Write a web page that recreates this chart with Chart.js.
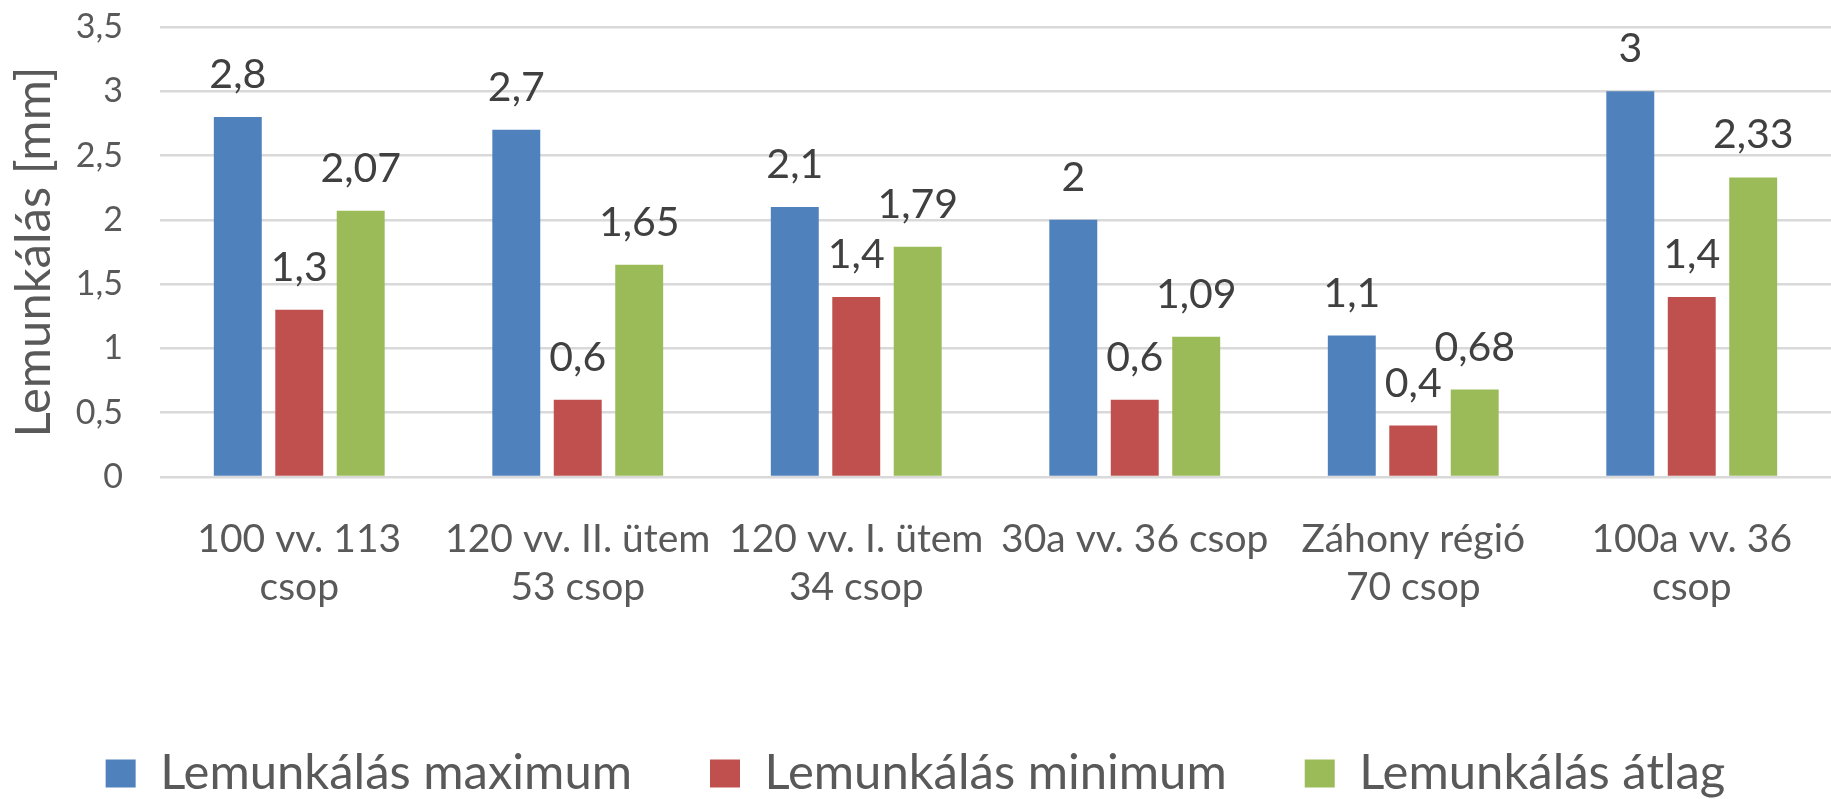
<!DOCTYPE html>
<html>
<head>
<meta charset="utf-8">
<script src="https://cdn.jsdelivr.net/npm/chart.js@4/dist/chart.umd.min.js"></script>
<style>
  html, body { margin: 0; padding: 0; background: #fff; }
  #wrap { width: 1831px; height: 799px; }
</style>
</head>
<body>
<div id="wrap"><canvas id="chart"></canvas></div>
<script>
const categories = [
  ['100 vv. 113', 'csop'],
  ['120 vv. II. ütem', '53 csop'],
  ['120 vv. I. ütem', '34 csop'],
  ['30a vv. 36 csop'],
  ['Záhony régió', '70 csop'],
  ['100a vv. 36', 'csop']
];
const maxValues = [2.8, 2.7, 2.1, 2, 1.1, 3];
const minValues = [1.3, 0.6, 1.4, 0.6, 0.4, 1.4];
const avgValues = [2.07, 1.65, 1.79, 1.09, 0.68, 2.33];
const seriesNames = ['Lemunkálás maximum', 'Lemunkálás minimum', 'Lemunkálás átlag'];
const yTicks = [0, 0.5, 1, 1.5, 2, 2.5, 3, 3.5];

function fmt(v) {
  return String(v).replace('.', ',');
}

// draws the value above every bar
const valueLabels = {
  id: 'valueLabels',
  afterDatasetsDraw(chart) {
    const ctx = chart.ctx;
    ctx.save();
    ctx.font = '41px Lato';
    ctx.fillStyle = '#404040';
    ctx.textAlign = 'center';
    ctx.textBaseline = 'alphabetic';
    chart.data.datasets.forEach((ds, i) => {
      const meta = chart.getDatasetMeta(i);
      meta.data.forEach((bar, j) => {
        ctx.fillText(fmt(ds.data[j]), bar.x, bar.y - 29);
      });
    });
    ctx.restore();
  }
};

const ctx = document.getElementById('chart').getContext('2d');
new Chart(ctx, {
  type: 'bar',
  data: {
    labels: categories,
    datasets: [
      { label: seriesNames[0], data: maxValues, backgroundColor: '#4F81BD' },
      { label: seriesNames[1], data: minValues, backgroundColor: '#C0504D' },
      { label: seriesNames[2], data: avgValues, backgroundColor: '#9BBB59' }
    ]
  },
  options: {
    responsive: true,
    maintainAspectRatio: false,
    animation: false,
    categoryPercentage: 0.662,
    barPercentage: 0.78,
    layout: {
      padding: { top: 27, left: 0, right: 0, bottom: -9 }
    },
    plugins: {
      tooltip: { enabled: false },
      legend: {
        display: true,
        position: 'bottom',
        labels: {
          boxWidth: 30,
          boxHeight: 28,
          padding: 78,
          color: '#595959',
          font: { family: 'Lato', size: 49 }
        }
      }
    },
    scales: {
      x: {
        grid: { display: false, drawTicks: false },
        border: { display: false },
        ticks: {
          color: '#595959',
          padding: 38,
          maxRotation: 0,
          autoSkip: false,
          font: { family: 'Lato', size: 39, lineHeight: 1.24 }
        },
        afterFit(scale) { scale.height = 194; }
      },
      y: {
        min: 0,
        max: 3.5,
        afterBuildTicks(scale) { scale.ticks = yTicks.map(v => ({ value: v })); },
        grid: { color: '#D9D9D9', lineWidth: 2.5, drawTicks: false },
        border: { display: false },
        ticks: {
          color: '#595959',
          padding: 37,
          font: { family: 'Lato', size: 34 },
          callback: v => fmt(v)
        },
        title: {
          display: true,
          text: 'Lemunkálás [mm]',
          color: '#595959',
          padding: { top: 5, bottom: 0 },
          font: { family: 'Lato', size: 49 }
        },
        afterFit(scale) {
          scale.width = 160;
          // the tick padding should not push the plot area down
          scale.paddingTop = 20;
          scale.paddingBottom = 20;
        }
      }
    }
  },
  plugins: [valueLabels]
});
</script>
</body>
</html>
